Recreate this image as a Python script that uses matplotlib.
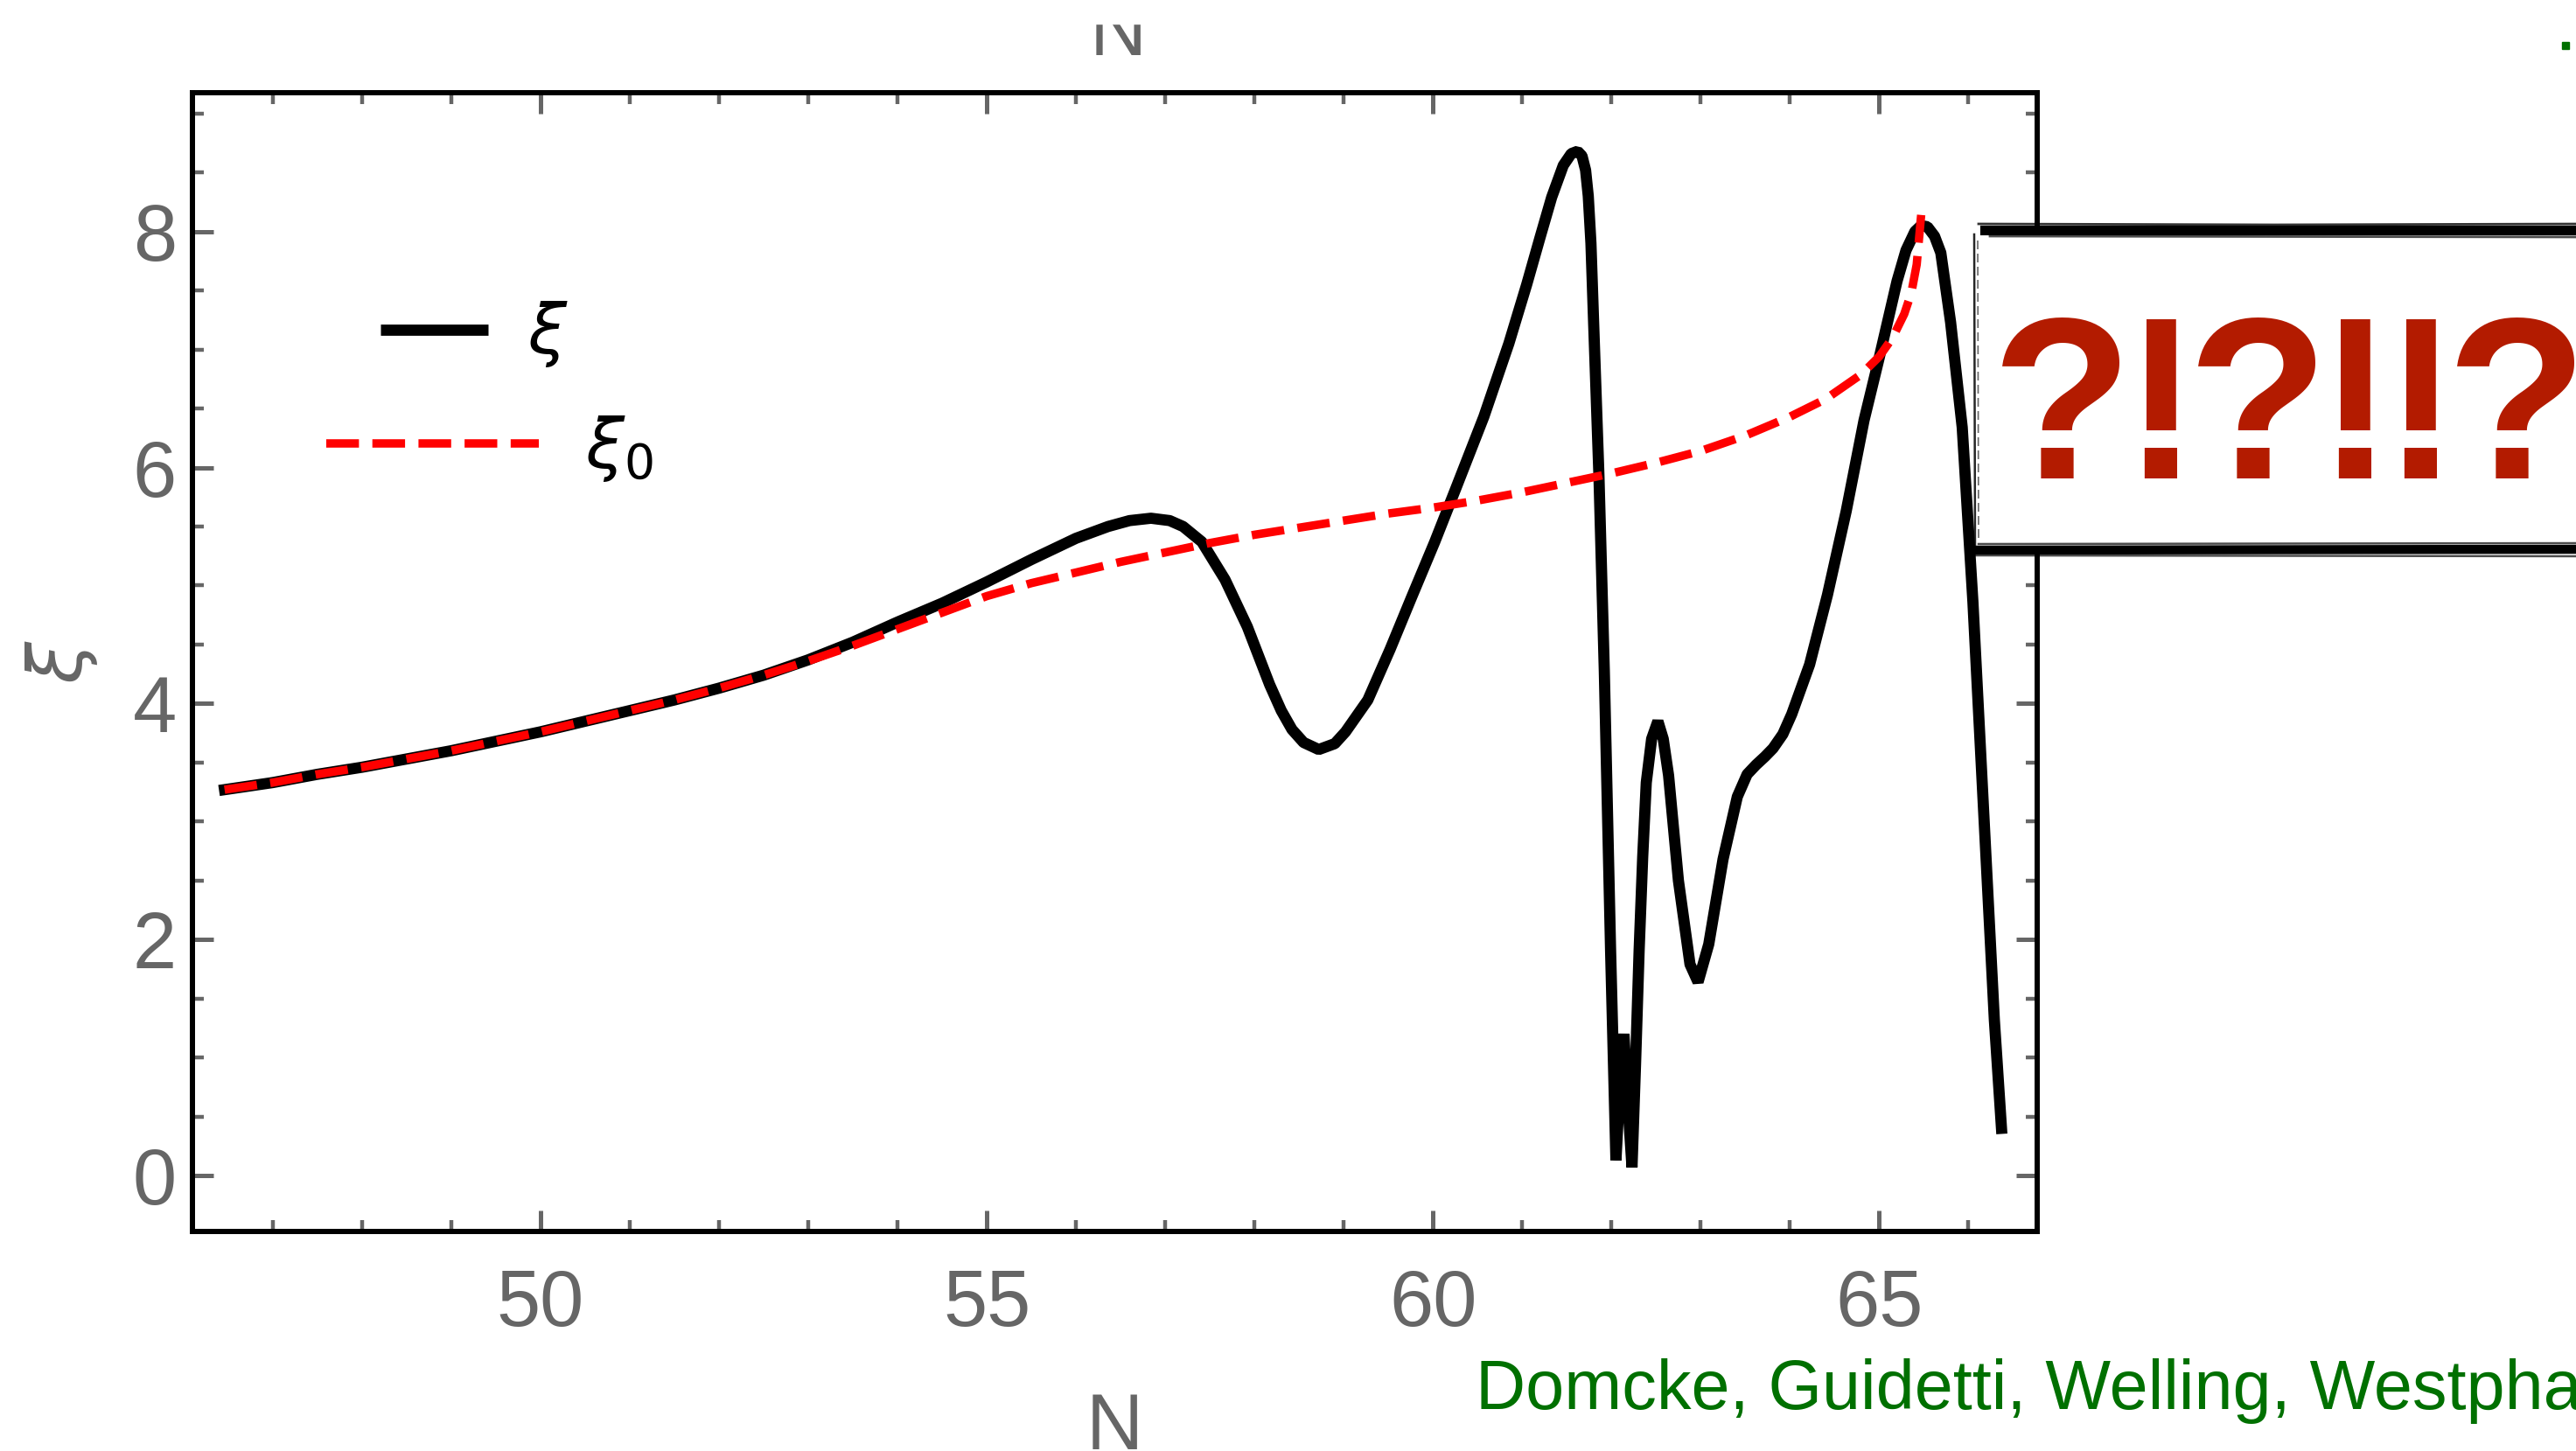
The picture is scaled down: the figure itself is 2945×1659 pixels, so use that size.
import matplotlib
matplotlib.use('Agg')
import matplotlib.pyplot as plt
from matplotlib.patches import Rectangle
from matplotlib.ticker import MultipleLocator, FixedLocator
from matplotlib import font_manager as fm

# ---------------- data ----------------
N_xi = [46.46, 47.0, 47.5, 48.0, 48.5, 49.0, 49.5, 50.0, 50.5, 51.0, 51.5, 52.0,
        52.5, 53.0, 53.5, 54.0, 54.5, 55.0, 55.5, 56.0, 56.36, 56.6, 56.84, 57.05,
        57.2, 57.41, 57.67, 57.92, 58.17, 58.3, 58.42, 58.55, 58.72, 58.9, 59.02, 59.27,
        59.52, 59.76, 60.02, 60.26, 60.57, 60.85, 61.05, 61.2, 61.33, 61.46, 61.55,
        61.62, 61.67, 61.71, 61.74, 61.77, 61.80, 61.86, 61.92, 61.99, 62.05, 62.09, 62.14,
        62.18, 62.23, 62.27, 62.31, 62.35, 62.39, 62.45, 62.52, 62.58, 62.64, 62.75,
        62.88, 62.97, 63.09, 63.25, 63.41, 63.52, 63.62, 63.72, 63.81, 63.92, 64.02, 64.22,
        64.42, 64.63, 64.83, 65.0, 65.2, 65.3, 65.4, 65.47, 65.54, 65.62, 65.69, 65.8,
        65.93, 66.05, 66.17, 66.29, 66.37]
xi = [3.27, 3.33, 3.40, 3.46, 3.53, 3.60, 3.68, 3.76, 3.85, 3.94, 4.03, 4.13,
      4.24, 4.37, 4.52, 4.69, 4.85, 5.03, 5.22, 5.40, 5.50, 5.55, 5.57, 5.55,
      5.50, 5.37, 5.05, 4.65, 4.16, 3.94, 3.78, 3.67, 3.61, 3.66, 3.76, 4.03,
      4.46, 4.90, 5.37, 5.83, 6.43, 7.05, 7.55, 7.95, 8.29, 8.56, 8.66,
      8.68, 8.64, 8.52, 8.30, 7.90, 7.23, 5.92, 4.27, 1.91, 0.13, 0.70, 1.20,
      0.65, 0.07, 0.95, 1.91, 2.70, 3.33, 3.70, 3.85, 3.70, 3.39, 2.50,
      1.79, 1.64, 1.96, 2.68, 3.21, 3.40, 3.48, 3.55, 3.62, 3.74, 3.91, 4.33,
      4.92, 5.63, 6.40, 6.93, 7.58, 7.84, 8.00, 8.05, 8.04, 7.96, 7.82, 7.23,
      6.34, 4.86, 3.09, 1.32, 0.40]

N_xi0 = [46.46, 47.0, 47.5, 48.0, 48.5, 49.0, 49.5, 50.0, 50.5, 51.0, 51.5, 52.0,
         52.5, 53.0, 53.5, 54.0, 54.5, 55.0, 55.5, 56.0, 56.5, 57.0, 57.5, 58.0,
         58.5, 59.0, 59.5, 60.0, 60.5, 61.0, 61.5, 62.0, 62.5, 63.0, 63.5, 64.0,
         64.4, 64.8, 65.0, 65.15, 65.28, 65.36, 65.42, 65.47]
xi0 = [3.27, 3.33, 3.40, 3.46, 3.53, 3.60, 3.68, 3.76, 3.85, 3.94, 4.03, 4.13,
       4.24, 4.36, 4.49, 4.63, 4.77, 4.91, 5.02, 5.11, 5.20, 5.28, 5.36, 5.43,
       5.49, 5.55, 5.61, 5.66, 5.72, 5.79, 5.87, 5.95, 6.04, 6.14, 6.27, 6.43,
       6.58, 6.79, 6.94, 7.10, 7.30, 7.48, 7.72, 8.14]

x_major = [50, 55, 60, 65]
y_major = [0, 2, 4, 6, 8]
x_label = "N"
y_label = r"$\xi$"
legend_labels = [r"$\xi$", r"$\xi_0$"]
citation = "Domcke, Guidetti, Welling, Westphal"
exclaim = "?!?!!?"

# ---------------- styling ----------------
W, H, DPI = 2945, 1659, 100
GREY = '#666666'
GREEN = '#007000'

plt.rcParams['font.family'] = ['Liberation Sans', 'DejaVu Sans']
plt.rcParams['mathtext.fontset'] = 'dejavusans'

fig = plt.figure(figsize=(W / DPI, H / DPI), dpi=DPI)
fig.patch.set_facecolor('white')

L, R, T, B = 220, 2329, 106, 1408
ax = fig.add_axes([L / W, 1 - B / H, (R - L) / W, (B - T) / H])

ax.plot(N_xi, xi, color='black', lw=9.2, solid_joinstyle='bevel', zorder=2)
ax.plot(N_xi0, xi0, color='red', lw=6.9, dashes=(3.9, 1.6), zorder=3)

ax.set_xlim(46.10, 66.77)
ax.set_ylim(-0.474, 9.176)
ax.xaxis.set_major_locator(FixedLocator(x_major))
ax.yaxis.set_major_locator(FixedLocator(y_major))
ax.xaxis.set_minor_locator(MultipleLocator(1))
ax.yaxis.set_minor_locator(MultipleLocator(0.5))

ax.tick_params(which='both', direction='in', top=True, right=True,
               color=GREY, labelcolor=GREY, labelsize=65)
ax.tick_params(which='major', length=17, width=3.6)
ax.tick_params(which='minor', length=9.5, width=3.2)
ax.tick_params(axis='x', which='major', pad=30)
ax.tick_params(axis='y', which='major', pad=13)
for s in ax.spines.values():
    s.set_linewidth(4.3)
    s.set_color('black')

ax.set_xlabel(x_label, fontsize=65, color=GREY, va='baseline')
ax.xaxis.set_label_coords(0.5, (B - 1657) / (B - T))
ax.set_ylabel(y_label, fontsize=62, color=GREY, va='center')
ax.yaxis.set_label_coords((71 - L) / (R - L), 0.5)

# ---------------- overlay in pixel coordinates ----------------
ov = fig.add_axes([0, 0, 1, 1], zorder=5)
ov.set_xlim(0, W)
ov.set_ylim(H, 0)
ov.axis('off')

# legend
ov.plot([435, 558], [377, 377], color='black', lw=9.2, solid_capstyle='butt')
ov.text(603, 404, legend_labels[0], fontsize=57, va='baseline', ha='left', color='black')
ov.plot([373, 616], [507, 507], color='red', lw=6.9, dashes=(3.9, 1.6))
ov.text(669, 535, legend_labels[1], fontsize=57, va='baseline', ha='left', color='black')

# stray top label
ov.text(1278, 63, x_label, ha='center', va='baseline', fontsize=65, color=GREY)
ov.add_patch(Rectangle((0, 0), W, 27, color='white', zorder=10))
ov.add_patch(Rectangle((2929, 48), 8, 8, color=GREEN))

# citation
ov.text(1687, 1611, citation, fontsize=57, color=GREEN, va='baseline', ha='left')

# sketchy box
ov.add_patch(Rectangle((2258, 268), 800, 357, facecolor='white', edgecolor='none', zorder=3))
ov.plot([2269, W + 10], [263, 263], color='black', lw=8.0, zorder=4)
ov.plot([2262, 2600, W + 10], [256, 257, 256], color='black', lw=2.0, alpha=0.8, zorder=4)
ov.plot([2275, W + 10], [270, 271], color='black', lw=2.0, alpha=0.7, zorder=4)
ov.plot([2256, W + 10], [629, 628], color='black', lw=7.5, zorder=4)
ov.plot([2262, W + 10], [622, 621], color='black', lw=1.8, alpha=0.7, zorder=4)
ov.plot([2258, W + 10], [635, 636], color='black', lw=1.8, alpha=0.7, zorder=4)
ov.plot([2257, 2258], [268, 628], color='black', lw=1.8, alpha=0.85, zorder=4)
ov.plot([2261, 2262], [275, 620], color='black', lw=1.2, alpha=0.6, dashes=(6, 3), zorder=4)

# big red exclamation, tightly tracked bold glyphs
char_centers = [2358, 2470, 2582, 2692, 2767, 2878]
for ch, cx in zip(exclaim, char_centers):
    ov.text(cx, 547, ch, fontsize=190, fontweight='bold', family='Liberation Sans',
            color='#B31B00', va='baseline', ha='center', zorder=6)

fig.savefig('out.png', dpi=DPI, facecolor='white')
